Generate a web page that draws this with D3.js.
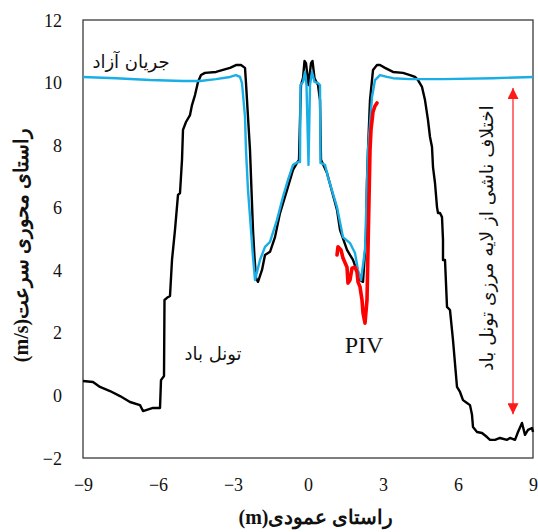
<!DOCTYPE html>
<html>
<head>
<meta charset="utf-8">
<script src="https://cdn.jsdelivr.net/npm/d3@7/dist/d3.min.js"></script>
<style>
  html, body { margin: 0; padding: 0; background: #fff; }
  svg { display: block; }
</style>
</head>
<body>
<svg id="chart" width="538" height="532"></svg>
<script>
// Axis ticks
const xTicks = [-9, -6, -3, 0, 3, 6, 9];
const yTicks = [-2, 0, 2, 4, 6, 8, 10, 12];

// Wind tunnel measurement (black)
const tunnelX = [-9, -8.6, -8.32, -7.92, -7.52, -7.12, -6.72, -6.6, -6.2, -5.92, -5.88, -5.76, -5.74, -5.64, -5.52,
  -5.44, -5.32, -5.2, -5.12, -5.04, -5.0, -4.88, -4.72, -4.64, -4.52, -4.4, -4.28, -4.12, -3.68, -3.12, -2.88,
  -2.68, -2.52, -2.48, -2.4, -2.32, -2.26, -2.2, -2.14, -2.08, -2.0, -1.84, -1.72, -1.52, -1.32, -1.12, -0.84,
  -0.6, -0.44, -0.36, -0.32, -0.28, -0.2, -0.14, -0.08, 0.02, 0.12, 0.18, 0.26, 0.4, 0.48, 0.52, 0.76, 1.16,
  1.28, 1.56, 1.8, 2.08, 2.2, 2.32, 2.36, 2.4, 2.48, 2.6, 2.76, 2.88, 3.08, 3.4, 3.8, 4.08, 4.28, 4.4, 4.56,
  4.68, 4.8, 4.88, 4.96, 5.0, 5.08, 5.16, 5.2, 5.28, 5.36, 5.4, 5.4, 5.48, 5.56, 5.68, 5.8, 5.96, 6.08, 6.2,
  6.36, 6.48, 6.56, 6.6, 6.76, 6.96, 7.16, 7.28, 7.48, 7.68, 7.96, 8.08, 8.28, 8.4, 8.56, 8.68, 8.8, 8.96, 9.0];
const tunnelY = [0.46, 0.43, 0.27, 0.14, -0.02, -0.21, -0.31, -0.50, -0.40, -0.40, 0.49, 0.62, 3.05, 3.12, 3.18,
  4.33, 5.29, 6.41, 6.47, 7.53, 8.49, 8.74, 8.96, 9.28, 9.60, 10.02, 10.24, 10.31, 10.34, 10.47, 10.56,
  10.56, 10.47, 9.98, 8.90, 7.84, 6.56, 5.29, 4.42, 3.75, 3.63, 4.01, 4.49, 4.59, 5.06, 5.83, 6.56,
  7.21, 7.43, 7.53, 8.80, 9.92, 10.14, 10.69, 10.62, 9.92, 10.62, 10.69, 10.14, 9.92, 9.44, 7.53, 7.11, 5.93,
  5.29, 4.65, 4.33, 3.69, 3.63, 5.06, 6.89, 7.84, 9.44, 10.40, 10.56, 10.56, 10.47, 10.34, 10.31, 10.24, 10.18, 10.08, 9.86,
  9.44, 8.80, 8.26, 7.94, 7.30, 6.79, 6.02, 5.83, 5.83, 5.70, 4.97, 4.33, 4.33, 2.83, 2.73, 1.77, 0.27, 0.11, -0.15,
  -0.24, -0.31, -0.62, -1.01, -1.17, -1.20, -1.33, -1.42, -1.42, -1.36, -1.42, -1.36, -1.42, -1.17, -0.88, -1.26, -1.10, -1.04, -1.17];

// Free-stream simulation (blue)
const freeX = [-9, -7.68, -6.32, -5.0, -4.32, -3.68, -3.12, -2.88, -2.72, -2.64, -2.52, -2.48, -2.4, -2.28, -2.2,
  -2.12, -1.92, -1.72, -1.52, -1.24, -1.0, -0.8, -0.6, -0.4, -0.32, -0.30, -0.2, -0.12, -0.06, 0.02, 0.08, 0.16,
  0.26, 0.4, 0.48, 0.50, 0.68, 0.8, 1.16, 1.4, 1.68, 1.88, 2.0, 2.12, 2.28, 2.4, 2.56, 2.68, 2.88, 3.16, 3.4,
  4.08, 5.4, 7.4, 9];
const freeY = [10.18, 10.14, 10.08, 10.05, 10.05, 10.11, 10.18, 10.24, 10.18, 9.98, 8.90, 7.84, 6.56, 5.29, 4.42,
  3.69, 4.33, 4.75, 4.91, 5.61, 6.35, 6.89, 7.37, 7.46, 7.46, 9.92, 10.02, 10.34, 9.92, 7.37, 9.92, 10.34,
  10.02, 9.98, 9.92, 7.43, 7.37, 6.98, 6.02, 5.06, 4.87, 4.55, 4.01, 3.69, 4.65, 7.84, 9.54, 10.08, 10.24, 10.18, 10.14,
  10.11, 10.11, 10.14, 10.18];

// PIV measurement (red)
const pivX = [1.16, 1.2, 1.32, 1.4, 1.56, 1.6, 1.68, 1.76, 1.88, 1.96, 2.0, 2.08, 2.16, 2.2, 2.28, 2.36, 2.4,
  2.44, 2.48, 2.52, 2.6, 2.68, 2.76];
const pivY = [4.49, 4.75, 4.65, 4.39, 4.10, 3.59, 3.69, 4.07, 4.10, 3.94, 3.63, 3.47, 3.05, 2.64, 2.31, 3.05, 4.65,
  6.25, 7.84, 8.49, 9.06, 9.25, 9.35];

// Boundary-layer difference arrow (x position, lower and upper ends)
const arrowX = [8.2];
const arrowY = [-0.6, 9.83];

const W = 538, H = 532;
const margin = { left: 83, right: 4, top: 20, bottom: 74 };
const svg = d3.select("#chart");

const x = d3.scaleLinear().domain([-9, 9]).range([margin.left, W - margin.right - 1]);
const y = d3.scaleLinear().domain([-2, 12]).range([H - margin.bottom, margin.top]);

const serif = "'Times New Roman', 'Liberation Serif', 'DejaVu Serif', serif";
const persian = "'DejaVu Sans', 'Noto Sans', sans-serif";

// Plot frame
svg.append("rect")
  .attr("x", x(-9)).attr("y", y(12))
  .attr("width", x(9) - x(-9)).attr("height", y(-2) - y(12))
  .attr("fill", "none").attr("stroke", "#3a3a3a").attr("stroke-width", 1.3);

// Axes: labels only, no tick marks
const xAxis = svg.append("g")
  .attr("transform", `translate(0,${y(-2)})`)
  .call(d3.axisBottom(x).tickValues(xTicks).tickSize(0).tickPadding(20).tickFormat(d3.format("d")));
const yAxis = svg.append("g")
  .attr("transform", `translate(${x(-9)},0)`)
  .call(d3.axisLeft(y).tickValues(yTicks).tickSize(0).tickPadding(21).tickFormat(d3.format("d")));
[xAxis, yAxis].forEach(g => {
  g.select(".domain").remove();
  g.selectAll("text")
    .attr("font-family", serif).attr("font-size", 18).attr("fill", "#111");
});
yAxis.selectAll("text").attr("dy", "0.34em");
xAxis.selectAll("text").attr("dy", "0.71em");

// Curves
const line = d3.line().x(d => x(d[0])).y(d => y(d[1]));
const zip = (a, b) => a.map((v, i) => [v, b[i]]);

svg.append("path").datum(zip(tunnelX, tunnelY))
  .attr("d", line).attr("fill", "none").attr("stroke", "#000")
  .attr("stroke-width", 2.4).attr("stroke-linejoin", "round");
svg.append("path").datum(zip(freeX, freeY))
  .attr("d", line).attr("fill", "none").attr("stroke", "#19aee6")
  .attr("stroke-width", 2.4).attr("stroke-linejoin", "round");
svg.append("path").datum(zip(pivX, pivY))
  .attr("d", line).attr("fill", "none").attr("stroke", "#ff0000")
  .attr("stroke-width", 3.6).attr("stroke-linejoin", "round").attr("stroke-linecap", "round");

// Double-headed red arrow
const defs = svg.append("defs");
["start", "end"].forEach(k => {
  defs.append("marker")
    .attr("id", "arr-" + k)
    .attr("viewBox", "0 0 10 10").attr("refX", 10).attr("refY", 5)
    .attr("markerWidth", 14).attr("markerHeight", 11)
    .attr("markerUnits", "userSpaceOnUse")
    .attr("orient", "auto-start-reverse")
    .append("path").attr("d", "M0,0 L10,5 L0,10 Z").attr("fill", "#ff1a1a");
});
svg.append("line")
  .attr("x1", x(arrowX[0])).attr("x2", x(arrowX[0]))
  .attr("y1", y(arrowY[0])).attr("y2", y(arrowY[1]))
  .attr("stroke", "#ff1a1a").attr("stroke-width", 1.2)
  .attr("marker-start", "url(#arr-start)").attr("marker-end", "url(#arr-end)");

// Annotations
svg.append("text").attr("x", 131).attr("y", 68).attr("text-anchor", "middle")
  .attr("font-family", persian).attr("font-size", 18).attr("fill", "#111")
  .text("جریان آزاد");
svg.append("text").attr("x", 213).attr("y", 360).attr("text-anchor", "middle")
  .attr("font-family", persian).attr("font-size", 18).attr("fill", "#111")
  .text("تونل باد");
svg.append("text").attr("x", 364).attr("y", 353).attr("text-anchor", "middle")
  .attr("font-family", serif).attr("font-size", 24).attr("fill", "#111")
  .text("PIV");
svg.append("text")
  .attr("transform", "translate(493,238) rotate(-90)")
  .attr("text-anchor", "middle")
  .attr("font-family", persian).attr("font-size", 18.5).attr("fill", "#111")
  .text("اختلاف ناشی از لایه مرزی تونل باد");

// Axis titles
svg.append("text").attr("x", 316).attr("y", 524).attr("text-anchor", "middle")
  .attr("font-family", serif).attr("font-size", 20).attr("font-weight", "bold").attr("fill", "#111")
  .text("(m)راستای عمودی");
svg.append("text")
  .attr("transform", "translate(28,245) rotate(-90)")
  .attr("text-anchor", "middle")
  .attr("font-family", serif).attr("font-size", 20).attr("font-weight", "bold").attr("fill", "#111")
  .text("(m/s)راستای محوری سرعت");
</script>
</body>
</html>
